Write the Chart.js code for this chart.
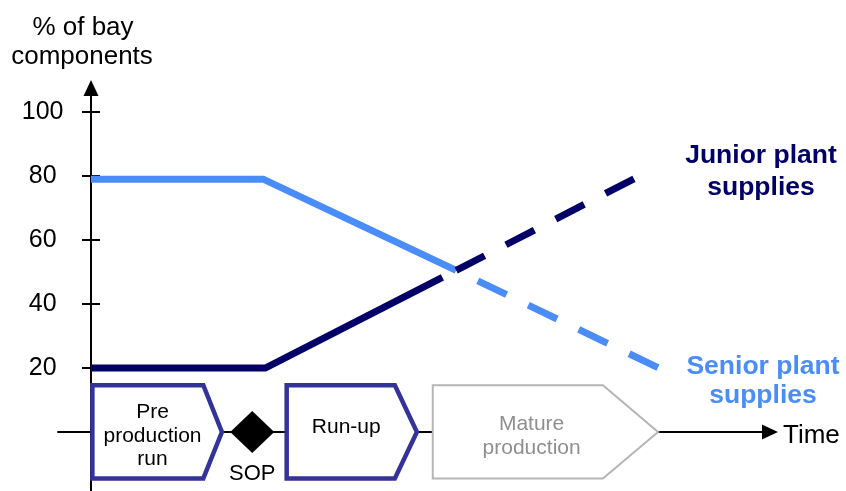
<!DOCTYPE html>
<html><head><meta charset="utf-8">
<script src="https://cdn.jsdelivr.net/npm/chart.js@4/dist/chart.umd.min.js"></script>
<style>html,body{margin:0;padding:0;background:#fff;overflow:hidden}#wrap{position:relative;width:846px;height:491px}canvas{display:block}</style>
</head><body>
<div id="wrap"><canvas id="c"></canvas></div>
<script>
// ---- data ----
const yTicks = [20, 40, 60, 80, 100];
const seniorSolidTime = [0, 25, 53];
const seniorSolidValues = [79, 79, 50.5];
const seniorDashTime = [53, 82.4];
const seniorDashValues = [50.5, 20];
const juniorSolidTime = [0, 25.3, 51];
const juniorSolidValues = [20, 20, 48.3];
const juniorDashTime = [53, 79.6];
const juniorDashValues = [50.5, 80];
const phaseNames = [["Pre", "production", "run"], ["Run-up"], ["Mature", "production"]];
const phaseStart = [0.2, 28.4, 49.6];
const phaseFlatEnd = [16.3, 44.1, 74.3];
const phaseEnd = [19.0, 47.3, 82.3];
const milestoneName = "SOP";
const milestoneTime = 23.4;
const juniorLabel = ["Junior plant", "supplies"];
const seniorLabel = ["Senior plant", "supplies"];
const yTitle = ["% of bay", "components"];
const xTitle = "Time";

// ---- styles ----
const FONT = '"Liberation Sans", Arial, Helvetica, sans-serif';
const SENIOR = '#4b8df8';
const JUNIOR = '#000066';
const PHASE = '#333399';
const PHASE_LIGHT = '#b5b5b5';
const PHASE_LIGHT_TEXT = '#8f8f8f';
const phaseLabelShift = [0, -9, 0];
const phaseActive = [true, true, false];

const zip = (t, v) => t.map((x, i) => ({x, y: v[i]}));

const drawPlugin = {
  id: 'decor',
  beforeDatasetsDraw(chart) {
    const {ctx, chartArea: ca, scales: {x: xs, y: ys}} = chart;
    const y0 = ys.getPixelForValue(0);
    const ax = ca.left;
    ctx.save();
    ctx.strokeStyle = '#000'; ctx.fillStyle = '#000'; ctx.lineWidth = 2;
    // time axis
    const tip = ca.right - 2;
    ctx.beginPath(); ctx.moveTo(xs.getPixelForValue(-4.9), y0); ctx.lineTo(tip - 14, y0); ctx.stroke();
    ctx.beginPath(); ctx.moveTo(tip, y0); ctx.lineTo(tip - 16, y0 - 7.5); ctx.lineTo(tip - 16, y0 + 7.5); ctx.closePath(); ctx.fill();
    // y axis
    ctx.beginPath(); ctx.moveTo(ax, ca.top + 14); ctx.lineTo(ax, ca.bottom); ctx.stroke();
    ctx.beginPath(); ctx.moveTo(ax, ca.top); ctx.lineTo(ax - 7.5, ca.top + 16); ctx.lineTo(ax + 7.5, ca.top + 16); ctx.closePath(); ctx.fill();
    yTicks.forEach(v => {
      const py = ys.getPixelForValue(v);
      ctx.beginPath(); ctx.moveTo(ax - 9, py); ctx.lineTo(ax + 9, py); ctx.stroke();
    });
    ctx.restore();
  },
  afterDatasetsDraw(chart) {
    const {ctx, scales: {x: xs, y: ys}} = chart;
    const y0 = ys.getPixelForValue(0);
    const yTop = ys.getPixelForValue(14.6);
    const yBot = ys.getPixelForValue(-14.5);
    ctx.save();
    // phases
    phaseNames.forEach((lines, i) => {
      const a = xs.getPixelForValue(phaseStart[i]);
      const b = xs.getPixelForValue(phaseFlatEnd[i]);
      const c = xs.getPixelForValue(phaseEnd[i]);
      ctx.beginPath();
      ctx.moveTo(a, yTop); ctx.lineTo(b, yTop); ctx.lineTo(c, y0); ctx.lineTo(b, yBot); ctx.lineTo(a, yBot); ctx.closePath();
      ctx.fillStyle = '#fff'; ctx.fill();
      ctx.lineJoin = 'miter';
      ctx.lineWidth = phaseActive[i] ? 4.5 : 2;
      ctx.strokeStyle = phaseActive[i] ? PHASE : PHASE_LIGHT;
      ctx.stroke();
      const cx = (a + (b + c) / 2) / 2;
      ctx.fillStyle = phaseActive[i] ? '#000' : PHASE_LIGHT_TEXT;
      ctx.font = '21px ' + FONT;
      ctx.textAlign = 'center'; ctx.textBaseline = 'alphabetic';
      const lh = 23.5;
      const n = lines.length;
      lines.forEach((t, k) => {
        const by = y0 + 10 + (k - (n - 1) / 2) * lh + phaseLabelShift[i];
        ctx.fillText(t, cx, by);
      });
    });
    // milestone diamond
    const mx = xs.getPixelForValue(milestoneTime);
    ctx.beginPath();
    ctx.moveTo(mx, y0 - 21); ctx.lineTo(mx + 22, y0); ctx.lineTo(mx, y0 + 21); ctx.lineTo(mx - 22, y0); ctx.closePath();
    ctx.fillStyle = '#000'; ctx.fill();
    ctx.font = '22px ' + FONT; ctx.textAlign = 'center';
    ctx.fillText(milestoneName, mx, 480);
    // series labels
    ctx.font = 'bold 26.5px ' + FONT;
    ctx.fillStyle = JUNIOR;
    ctx.fillText(juniorLabel[0], 761, 163);
    ctx.fillText(juniorLabel[1], 761, 195);
    ctx.fillStyle = SENIOR;
    ctx.fillText(seniorLabel[0], 763, 374);
    ctx.fillText(seniorLabel[1], 763, 403);
    // axis titles
    ctx.fillStyle = '#000';
    ctx.font = '26px ' + FONT;
    ctx.fillText(yTitle[0], 83, 35);
    ctx.fillText(yTitle[1], 82, 64);
    ctx.textAlign = 'left';
    ctx.fillText(xTitle, 783, 443);
    ctx.restore();
  }
};

const lineStyle = {borderWidth: 7, pointRadius: 0, pointHoverRadius: 0, tension: 0, fill: false, borderCapStyle: 'butt', borderJoinStyle: 'miter'};

new Chart(document.getElementById('c'), {
  type: 'line',
  data: {
    datasets: [
      Object.assign({label: 'Junior plant supplies (forecast)', data: zip(juniorDashTime, juniorDashValues), borderColor: JUNIOR, borderDash: [32, 24], borderDashOffset: 0}, lineStyle),
      Object.assign({label: 'Senior plant supplies (forecast)', data: zip(seniorDashTime, seniorDashValues), borderColor: SENIOR, borderDash: [32, 24], borderDashOffset: 32}, lineStyle),
      Object.assign({label: 'Senior plant supplies', data: zip(seniorSolidTime, seniorSolidValues), borderColor: SENIOR}, lineStyle),
      Object.assign({label: 'Junior plant supplies', data: zip(juniorSolidTime, juniorSolidValues), borderColor: JUNIOR}, lineStyle)
    ]
  },
  options: {
    responsive: true,
    maintainAspectRatio: false,
    devicePixelRatio: 1,
    animation: false,
    events: [],
    layout: {autoPadding: false, padding: {top: 80, right: 66, bottom: 0, left: 0}},
    plugins: {legend: {display: false}, tooltip: {enabled: false}, title: {display: false}},
    scales: {
      x: {type: 'linear', min: 0, max: 100, display: false},
      y: {
        type: 'linear', min: -18.44, max: 110,
        afterBuildTicks: s => { s.ticks = yTicks.map(v => ({value: v})); },
        afterFit: s => { s.width = 91; s.paddingTop = 0; s.paddingBottom = 0; },
        grid: {display: false, drawTicks: false},
        border: {display: false},
        ticks: {padding: 27.5, crossAlign: 'center', color: '#000', font: {family: FONT, size: 25}}
      }
    }
  },
  plugins: [drawPlugin]
});
</script>
</body></html>
